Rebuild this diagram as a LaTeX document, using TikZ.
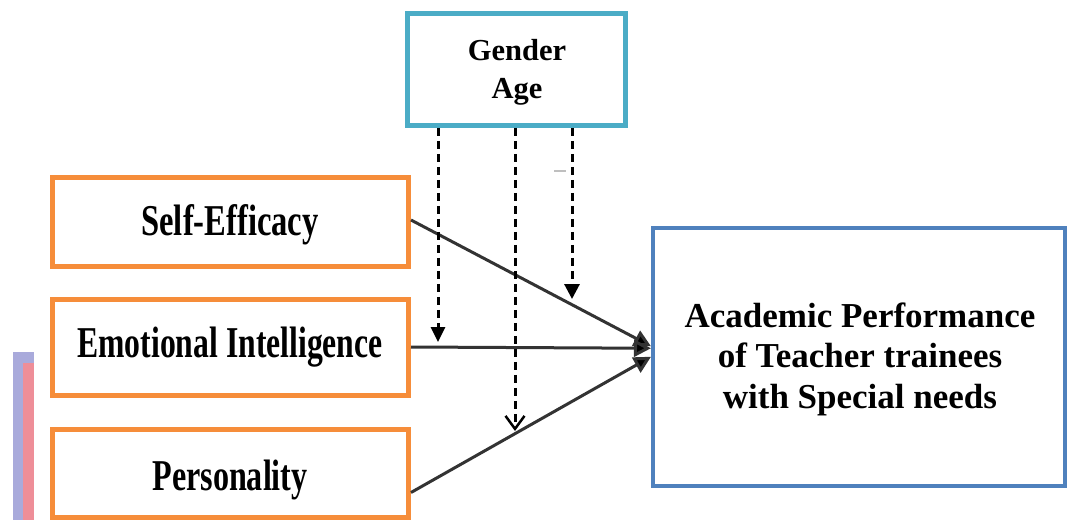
\documentclass[tikz,border=0pt]{standalone}
\usepackage{fontspec}
\setmainfont{Liberation Serif}
\usetikzlibrary{arrows.meta}
\definecolor{boxorange}{HTML}{F68D3A}
\definecolor{boxteal}{HTML}{4BACC6}
\definecolor{boxblue}{HTML}{4F81BD}
\definecolor{artblue}{HTML}{A9AADB}
\definecolor{artpink}{HTML}{EE8E98}
\begin{document}
\begin{tikzpicture}[x=1pt,y=-1pt,
  obox/.style={draw=boxorange,line width=5pt,rectangle,inner sep=0pt,minimum width=356pt},
  tbox/.style={draw=boxteal,line width=4.5pt,rectangle,inner sep=0pt},
  bbox/.style={draw=boxblue,line width=4pt,rectangle,inner sep=0pt},
  condtext/.style={anchor=base,inner sep=0pt,font=\fontsize{44}{44}\selectfont\bfseries},
  main/.style={draw=black!80,line width=3pt,-{Triangle[length=17pt,width=17pt,fill=black]}},
  mod/.style={draw=black,line width=3pt,dash pattern=on 8pt off 5pt},
]
\useasboundingbox (0,0) rectangle (1069,520);
% background artefact at left edge
\fill[artblue] (13,352) rectangle (34,520);
\fill[artpink] (23,363) rectangle (34,520);
% boxes
\node[tbox,minimum width=218pt,minimum height=112pt] (gd) at (516.5,69.5) {};
\node[obox,minimum height=89pt] (se) at (230.5,221.5) {};
\node[obox,minimum height=96pt] (ei) at (230.5,347) {};
\node[obox,minimum height=88pt] (pe) at (230.5,473) {};
\node[bbox,minimum width=412pt,minimum height=258pt] (ap) at (859,356.75) {};
% texts
\node[anchor=base,inner sep=0pt,align=center,font=\fontsize{30.5}{38}\selectfont\bfseries] (gdt) at (517,98) {Gender\\Age};
\node[condtext] (set) at (230,235) {\scalebox{0.74}[1]{Self-Efficacy}};
\node[condtext] (eit) at (230,357) {\scalebox{0.72}[1]{Emotional Intelligence}};
\node[condtext] (pet) at (230,490) {\scalebox{0.73}[1]{Personality}};
\node[anchor=base,inner sep=0pt,align=center,font=\fontsize{35}{40.5}\selectfont\bfseries] (apt) at (860,408) {Academic Performance\\of Teacher trainees\\with Special needs};
% main paths
\draw[main] ([yshift=1.5pt]se.east) -- ([yshift=10.5pt]ap.west);
\draw[main] (ei.east) -- ([yshift=8.5pt]ap.west);
\draw[main] ([yshift=-19.5pt]pe.east) -- ([yshift=0pt]ap.west);
% moderator arrows
\coordinate (d1) at (438,342);
\coordinate (d2) at (515,431);
\coordinate (d3) at (572,299);
\draw[mod,-{Triangle[length=15pt,width=14pt]}] (gd.south -| d1) -- (d1);
\draw[mod,-{Straight Barb[length=13pt,width=19pt,line width=2.5pt]}] (gd.south -| d2) -- (d2);
\draw[mod,-{Triangle[length=15pt,width=15pt]}] (gd.south -| d3) -- (d3);
% small grey mark
\draw[black!25,line width=2pt] (554,171) -- (566,171);
\end{tikzpicture}
\end{document}
